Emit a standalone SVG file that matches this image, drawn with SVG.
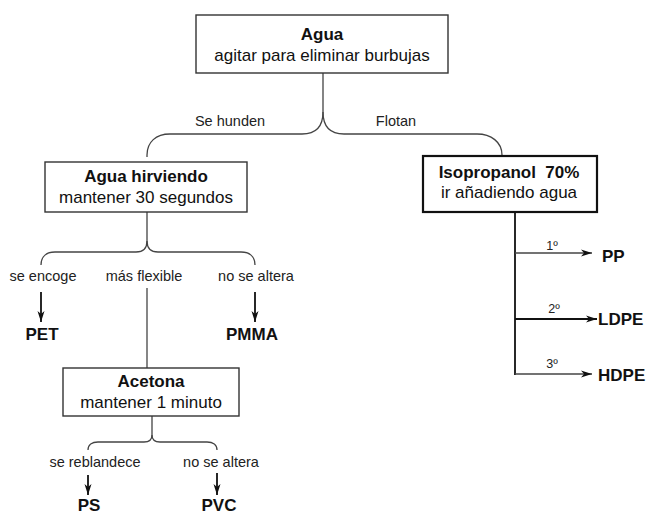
<svg xmlns="http://www.w3.org/2000/svg" width="646" height="516" viewBox="0 0 646 516">
<style>
.box{fill:#fff;stroke:#333;stroke-width:1.4}
.box2{fill:#fff;stroke:#111;stroke-width:2.2}
.t{font-family:"Liberation Sans",Arial,sans-serif;font-size:17px;fill:#111;text-anchor:middle}
.b{font-weight:bold}
.lab{font-family:"Liberation Sans",Arial,sans-serif;font-size:14.5px;fill:#222;text-anchor:middle}
.ord{font-family:"Liberation Sans",Arial,sans-serif;font-size:12.5px;fill:#222;text-anchor:middle}
.res{font-family:"Liberation Sans",Arial,sans-serif;font-size:17px;font-weight:bold;fill:#111}
.c{fill:none;stroke:#444;stroke-width:1.3}
.k{fill:none;stroke:#111;stroke-width:1.8}
</style>
<defs>
<marker id="ah" markerUnits="userSpaceOnUse" markerWidth="12" markerHeight="8" refX="11" refY="4" orient="auto">
<path d="M0,0.5 L11,4 L0,7.5 L3,4 z" fill="#111"/>
</marker>
</defs>
<g id="connectors">
<path class="c" d="M323,73 V112 C323,128 315,134 302,134 H170 C156,134 147,142 147,155 V157"/>
<path class="c" d="M323,112 C323,128 331,134 344,134 H477 C491,134 502,142 502,155"/>
<path class="c" d="M147,212 V241 C147,249 143,252 136,252 H55 C47,252 41,256 41,265"/>
<path class="c" d="M147,241 C147,249 151,252 158,252 H241 C249,252 255,256 255,265"/>
<path class="c" d="M152,416 V435 C152,440 149,442 144,442 H98 C92,442 88,445 88,450"/>
<path class="c" d="M152,435 C152,440 155,442 160,442 H207 C213,442 217,445 217,450"/>
<line class="c" x1="147" y1="288" x2="147" y2="368"/>
<line class="k" x1="41" y1="292" x2="41" y2="322" marker-end="url(#ah)"/>
<line class="k" x1="255" y1="292" x2="255" y2="322" marker-end="url(#ah)"/>
<line class="k" x1="88" y1="475" x2="88" y2="495" marker-end="url(#ah)"/>
<line class="k" x1="217" y1="473" x2="217" y2="495" marker-end="url(#ah)"/>
<line class="k" x1="515" y1="212" x2="515" y2="375" stroke-width="2"/>
<line class="c" x1="515" y1="253" x2="592" y2="253" marker-end="url(#ah)"/>
<line class="k" x1="515" y1="319" x2="597" y2="319" marker-end="url(#ah)"/>
<line class="c" x1="515" y1="374" x2="592" y2="374" marker-end="url(#ah)"/>
<text class="lab" x="230" y="126">Se hunden</text>
<text class="lab" x="396" y="126">Flotan</text>
<text class="lab" x="43" y="281">se encoge</text>
<text class="lab" x="144" y="281">más flexible</text>
<text class="lab" x="256" y="281">no se altera</text>
<text class="lab" x="95" y="467">se reblandece</text>
<text class="lab" x="221" y="467">no se altera</text>
<text class="ord" x="552" y="250">1º</text>
<text class="ord" x="554" y="313">2º</text>
<text class="ord" x="552" y="368">3º</text>
</g>
<g id="agua">
<rect class="box" x="196" y="15" width="252" height="58"/>
<text class="t b" x="322" y="40">Agua</text>
<text class="t" x="322" y="61">agitar para eliminar burbujas</text>
</g>
<g id="hirviendo">
<rect class="box" x="45" y="162" width="202" height="50"/>
<text class="t b" x="146" y="182">Agua hirviendo</text>
<text class="t" x="146" y="203">mantener 30 segundos</text>
</g>
<g id="isopropanol">
<rect class="box2" x="423" y="156" width="174" height="56"/>
<text class="t b" x="509" y="178" xml:space="preserve">Isopropanol  70%</text>
<text class="t" x="509" y="198">ir añadiendo agua</text>
</g>
<g id="acetona">
<rect class="box" x="63" y="368" width="176" height="48"/>
<text class="t b" x="151" y="387">Acetona</text>
<text class="t" x="151" y="408">mantener 1 minuto</text>
</g>
<g id="pet"><text class="res" x="42" y="340" text-anchor="middle">PET</text></g>
<g id="pmma"><text class="res" x="252" y="340" text-anchor="middle">PMMA</text></g>
<g id="ps"><text class="res" x="89" y="511" text-anchor="middle">PS</text></g>
<g id="pvc"><text class="res" x="219" y="511" text-anchor="middle">PVC</text></g>
<g id="pp"><text class="res" x="602" y="262">PP</text></g>
<g id="ldpe"><text class="res" x="598" y="325">LDPE</text></g>
<g id="hdpe"><text class="res" x="598" y="381">HDPE</text></g>
</svg>
